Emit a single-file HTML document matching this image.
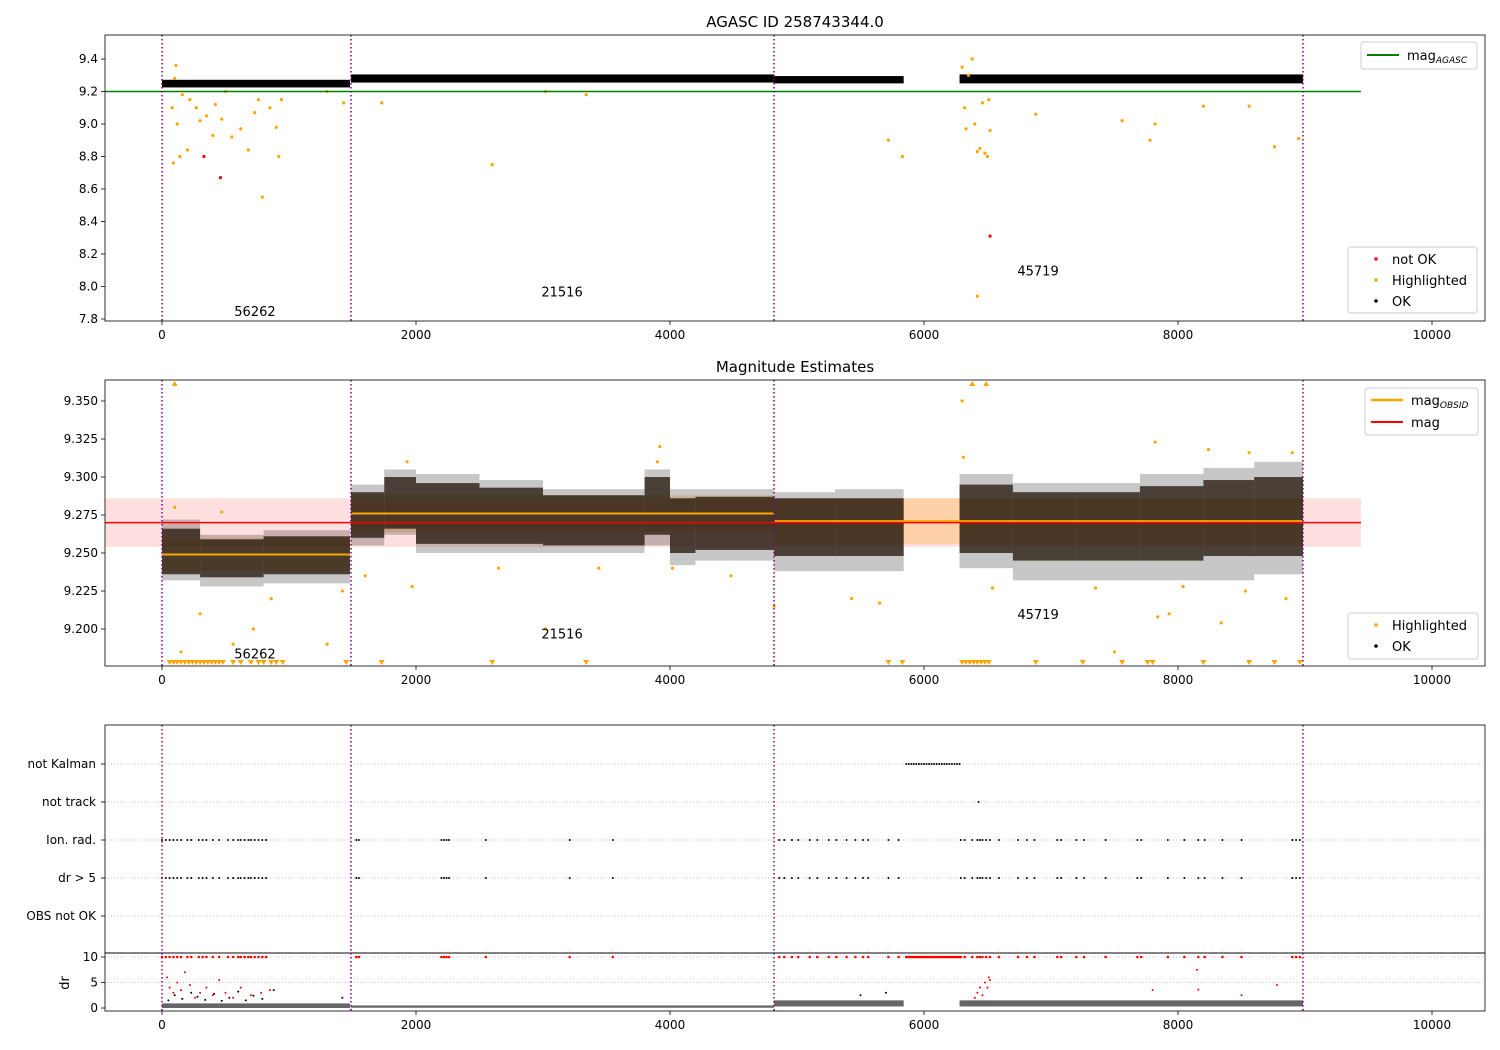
<!DOCTYPE html>
<html><head><meta charset="utf-8">
<style>
html,body{margin:0;padding:0;background:#fff;}
svg{display:block;font-family:"DejaVu Sans","Liberation Sans",sans-serif;}
</style></head>
<body>
<svg id="fig" width="1500" height="1050" viewBox="0 0 1500 1050" xmlns="http://www.w3.org/2000/svg">
<rect x="0" y="0" width="1500" height="1050" fill="#fff"/>
<g id="p1"></g>
<g id="p2"></g>
<g id="p3"></g>
<g id="p4"></g>
</svg>
<script>
// ---------- data ----------
const xTicks = [0, 2000, 4000, 6000, 8000, 10000];
const obsBounds = [0, 1488, 4819, 8984];
const obsIds = ["56262", "21516", "45719"];
const obsLabelX = [732, 3150, 6898];
const p1LabelY = [7.85, 7.97, 8.10];
const p2LabelY = [9.184, 9.197, 9.210];
const p1Ticks = [7.8, 8.0, 8.2, 8.4, 8.6, 8.8, 9.0, 9.2, 9.4];
const p2Ticks = [9.200, 9.225, 9.250, 9.275, 9.300, 9.325, 9.350];
const magAgasc = 9.2;
const magAll = 9.270;
const magAllStd = 0.016;
const segStart = [0, 1488, 4819, 6280];
const segEnd = [1480, 4819, 5840, 8984];
const seg1Lo = [9.225, 9.255, 9.25, 9.25];
const seg1Hi = [9.272, 9.305, 9.295, 9.305];
const obsMeanStart = [0, 1488, 4819];
const obsMeanEnd = [1480, 4819, 8984];
const obsMean = [9.249, 9.276, 9.271];
const obsStd = [0.011, 0.012, 0.015];
const binStart = [0, 300, 800, 1488, 1750, 2000, 2500, 3000, 3500, 3800, 4000, 4200, 4819, 5300, 6280, 6700, 7200, 7700, 8200, 8600];
const binEnd = [300, 800, 1480, 1750, 2000, 2500, 3000, 3500, 3800, 4000, 4200, 4819, 5300, 5840, 6700, 7200, 7700, 8200, 8600, 8984];
const binLo = [9.232, 9.228, 9.23, 9.255, 9.262, 9.25, 9.25, 9.25, 9.25, 9.255, 9.242, 9.245, 9.238, 9.238, 9.24, 9.232, 9.232, 9.232, 9.232, 9.236];
const binHi = [9.272, 9.262, 9.265, 9.295, 9.305, 9.302, 9.298, 9.292, 9.292, 9.305, 9.292, 9.292, 9.29, 9.292, 9.302, 9.296, 9.296, 9.302, 9.306, 9.31];
const binCoreLo = [9.236, 9.234, 9.236, 9.26, 9.266, 9.256, 9.256, 9.255, 9.255, 9.262, 9.25, 9.252, 9.248, 9.248, 9.25, 9.245, 9.245, 9.245, 9.248, 9.248];
const binCoreHi = [9.266, 9.259, 9.261, 9.29, 9.3, 9.296, 9.293, 9.288, 9.288, 9.3, 9.286, 9.287, 9.286, 9.286, 9.295, 9.29, 9.29, 9.294, 9.298, 9.3];
const hl1X = [80,100,110,90,120,140,160,200,220,270,300,350,400,420,470,500,550,620,680,730,760,790,850,900,920,940,1300,1430,1730,2600,3020,3340,5720,5830,6300,6320,6330,6350,6380,6400,6420,6440,6460,6480,6500,6510,6520,6420,6880,7560,7780,7820,8200,8560,8760,8950];
const hl1Y = [9.1,9.28,9.36,8.76,9.0,8.8,9.18,8.84,9.15,9.1,9.02,9.05,8.93,9.12,9.03,9.2,8.92,8.97,8.84,9.07,9.15,8.55,9.1,8.98,8.8,9.15,9.2,9.13,9.13,8.75,9.2,9.18,8.9,8.8,9.35,9.1,8.97,9.3,9.4,9.0,8.83,8.85,9.13,8.82,8.8,9.15,8.96,7.94,9.06,9.02,8.9,9.0,9.11,9.11,8.86,8.91];
const bad1X = [330, 460, 6520];
const bad1Y = [8.80, 8.67, 8.31];
const hl2X = [100,470,300,560,150,720,860,1300,1420,1600,1930,1970,2650,3020,3440,3900,3920,4020,4480,4820,5430,5650,6300,6310,6540,7350,7500,7820,7840,7930,8040,8240,8340,8530,8560,8850,8900];
const hl2Y = [9.28,9.277,9.21,9.19,9.185,9.2,9.22,9.19,9.225,9.235,9.31,9.228,9.24,9.2,9.24,9.31,9.32,9.24,9.235,9.215,9.22,9.217,9.35,9.313,9.227,9.227,9.185,9.323,9.208,9.21,9.228,9.318,9.204,9.225,9.316,9.22,9.316];
const topClipX = [100, 6380, 6490];
const botClipX = [60,90,120,150,180,210,240,270,300,330,360,390,420,450,480,560,620,700,760,800,860,900,950,1450,1730,2600,3340,5720,5830,6300,6330,6360,6390,6420,6450,6480,6510,6880,7250,7560,7760,7800,8200,8560,8760,8960];
const ionX = [0,30,60,90,120,150,200,230,290,320,350,400,450,520,560,600,620,650,680,700,730,760,790,820,1530,1550,2200,2220,2240,2260,2550,3210,3550,4860,4900,4960,5010,5100,5160,5250,5310,5390,5460,5520,5560,5720,5800,6290,6320,6380,6420,6440,6460,6490,6520,6590,6740,6810,6870,7050,7080,7200,7260,7430,7680,7710,7920,8050,8160,8210,8350,8500,8900,8930,8960];
const kalmanRange = [5860, 6290];
const notTrackX = [6430];
const categories = ["OBS not OK", "dr > 5", "Ion. rad.", "not track", "not Kalman"];
const drTicks = [0, 5, 10];
const drBandLo = [0.0, 0.05, 0.3, 0.3];
const drBandHi = [0.9, 0.5, 1.5, 1.5];
const drRedX = [40,60,90,120,150,180,220,260,300,350,400,450,500,560,620,700,780,850,6400,6420,6440,6460,6480,6500,6510,6520,7800,8150,8160,8500,8780];
const drRedY = [6,4,3,5,3.5,7,4.5,2,3,4,2.5,5.5,3,2,4,2.5,3,3.5,2,3,4,2.5,5,4,6,5.5,3.5,7.5,3.6,2.5,4.5];
const drBlkX = [50,100,160,230,280,340,410,470,530,600,660,720,790,880,1420,5500,5700];
const drBlkY = [1.5,2.5,1.8,3,2.2,1.6,2.8,1.4,2,3.2,1.5,2.4,1.8,3.5,2,2.5,3];

// ---------- scales ----------
const X0 = 162, XS = 0.127;
const xs = v => X0 + v * XS;
const y1 = v => 91.5 - (v - 9.2) * 162.5;
const y2 = v => 629 - (v - 9.2) * 1520;
const yc = i => 916 - i * 38;
const yd = v => 1008 - v * 5.1;
const L = 105, R = 1485;
const NS = "http://www.w3.org/2000/svg";
function mk(parent, tag, attrs, text) {
  const e = document.createElementNS(NS, tag);
  for (const k in attrs) e.setAttribute(k, attrs[k]);
  if (text !== undefined) e.textContent = text;
  parent.appendChild(e);
  return e;
}
function dot(g, x, y, r, fill) {
  const c = mk(g, "circle", {cx: x, cy: y, r: r, fill: fill});
  
  
  return c;
}
function xAxis(g, top, bot, labels) {
  for (const t of xTicks) {
    const x = xs(t);
    const l = mk(g, "line", {x1: x, x2: x, y1: bot, y2: bot + 4, stroke: "#000", "stroke-width": 0.8});
    
    
    if (labels) {
      const tx = mk(g, "text", {x: x, y: bot + 18, "text-anchor": "middle", "font-size": 12}, String(t));
      
      
    }
  }
}
function frame(g, top, bot) {
  const r = mk(g, "rect", {x: L, y: top, width: R - L, height: bot - top, fill: "none", stroke: "#000", "stroke-width": 0.8});
  
  
}
function vlines(g, top, bot) {
  for (const b of obsBounds) {
    const l = mk(g, "line", {x1: xs(b), x2: xs(b), y1: top, y2: bot, stroke: "#800080", "stroke-width": 1.5, "stroke-dasharray": "1.5,2.5"});
    
    
  }
}
function yTicks(g, ticks, fy, fmt) {
  for (const t of ticks) {
    const y = fy(t);
    const l = mk(g, "line", {x1: L - 4, x2: L, y1: y, y2: y, stroke: "#000", "stroke-width": 0.8});
    
    
    const tx = mk(g, "text", {x: L - 7, y: y + 4, "text-anchor": "end", "font-size": 12}, fmt(t));
    
    
  }
}
function legendBox(g, x, y, w, h) {
  const r = mk(g, "rect", {x: x, y: y, width: w, height: h, fill: "#fff", "fill-opacity": 0.85, stroke: "#ccc", rx: 3});
  
  
}
function legendText(g, x, y, s, name) {
  const t = mk(g, "text", {x: x, y: y, "font-size": 13}, s);
  
  
  return t;
}

// ---------- panel 1 ----------
const p1 = document.getElementById("p1");
const t1 = mk(p1, "text", {x: 795, y: 27, "text-anchor": "middle", "font-size": 15}, "AGASC ID 258743344.0");


for (let i = 0; i < segStart.length; i++) {
  const r = mk(p1, "rect", {x: xs(segStart[i]), y: y1(seg1Hi[i]), width: xs(segEnd[i]) - xs(segStart[i]), height: y1(seg1Lo[i]) - y1(seg1Hi[i]), fill: "#000"});
  
  
}
for (let i = 0; i < hl1X.length; i++) dot(p1, xs(hl1X[i]), y1(hl1Y[i]), 1.6, "orange");
for (let i = 0; i < bad1X.length; i++) dot(p1, xs(bad1X[i]), y1(bad1Y[i]), 1.6, "red");
const gl = mk(p1, "line", {x1: L, x2: xs(9440), y1: y1(magAgasc), y2: y1(magAgasc), stroke: "green", "stroke-width": 1.5});


vlines(p1, 35, 321);
for (let i = 0; i < obsIds.length; i++) {
  const t = mk(p1, "text", {x: xs(obsLabelX[i]), y: y1(p1LabelY[i]) + 5, "text-anchor": "middle", "font-size": 13}, obsIds[i]);
  
  
}
frame(p1, 35, 321);
xAxis(p1, 35, 321, true);
yTicks(p1, p1Ticks, y1, v => v.toFixed(1));
legendBox(p1, 1361, 42, 116, 27);
mk(p1, "line", {x1: 1367, x2: 1399, y1: 55, y2: 55, stroke: "green", "stroke-width": 2});
const lt = legendText(p1, 1407, 60, "mag", "legend-entry-mag-agasc");
mk(lt, "tspan", {dy: 3, "font-size": 9, "font-style": "italic"}, "AGASC");
legendBox(p1, 1348, 247, 129, 66);
dot(p1, 1376, 259, 1.8, "red"); legendText(p1, 1392, 264, "not OK", "legend-entry-not-ok");
dot(p1, 1376, 280, 1.8, "orange"); legendText(p1, 1392, 285, "Highlighted", "legend-entry-highlighted");
dot(p1, 1376, 301, 1.8, "#000"); legendText(p1, 1392, 306, "OK", "legend-entry-ok");

// ---------- panel 2 ----------
const p2 = document.getElementById("p2");
const t2 = mk(p2, "text", {x: 795, y: 372, "text-anchor": "middle", "font-size": 15}, "Magnitude Estimates");


const cp = mk(p2, "clipPath", {id: "c2"});
mk(cp, "rect", {x: L, y: 380, width: R - L, height: 286});
const g2 = mk(p2, "g", {"clip-path": "url(#c2)"});
const band = mk(g2, "rect", {x: L, y: y2(magAll + magAllStd), width: xs(9440) - L, height: y2(magAll - magAllStd) - y2(magAll + magAllStd), fill: "red", "fill-opacity": 0.12});


for (let i = 0; i < obsMean.length; i++) {
  const r = mk(g2, "rect", {x: xs(obsMeanStart[i]), y: y2(obsMean[i] + obsStd[i]), width: xs(obsMeanEnd[i]) - xs(obsMeanStart[i]), height: y2(obsMean[i] - obsStd[i]) - y2(obsMean[i] + obsStd[i]), fill: "orange", "fill-opacity": 0.25});
  
  
}
for (let i = 0; i < binStart.length; i++) {
  const w = xs(binEnd[i]) - xs(binStart[i]);
  const o = mk(g2, "rect", {x: xs(binStart[i]), y: y2(binHi[i]), width: w, height: y2(binLo[i]) - y2(binHi[i]), fill: "#000", "fill-opacity": 0.22});
  
  
  const c = mk(g2, "rect", {x: xs(binStart[i]), y: y2(binCoreHi[i]), width: w, height: y2(binCoreLo[i]) - y2(binCoreHi[i]), fill: "#1a0d00", "fill-opacity": 0.72});
  
  
}
for (let i = 0; i < obsMean.length; i++) {
  const l = mk(g2, "line", {x1: xs(obsMeanStart[i]), x2: xs(obsMeanEnd[i]), y1: y2(obsMean[i]), y2: y2(obsMean[i]), stroke: "orange", "stroke-width": 2});
  
  
}
const rl = mk(g2, "line", {x1: L, x2: xs(9440), y1: y2(magAll), y2: y2(magAll), stroke: "red", "stroke-width": 1.5});


for (let i = 0; i < hl2X.length; i++) dot(g2, xs(hl2X[i]), y2(hl2Y[i]), 1.6, "orange");
for (const v of topClipX) {
  const x = xs(v);
  const p = mk(p2, "polygon", {points: `${x-3},386 ${x+3},386 ${x},381`, fill: "orange"});
  
  
}
for (const v of botClipX) {
  const x = xs(v);
  const p = mk(p2, "polygon", {points: `${x-3},660 ${x+3},660 ${x},665`, fill: "orange"});
  
  
}
vlines(p2, 380, 666);
for (let i = 0; i < obsIds.length; i++) {
  const t = mk(p2, "text", {x: xs(obsLabelX[i]), y: y2(p2LabelY[i]) + 5, "text-anchor": "middle", "font-size": 13}, obsIds[i]);
  
  
}
frame(p2, 380, 666);
xAxis(p2, 380, 666, true);
yTicks(p2, p2Ticks, y2, v => v.toFixed(3));
legendBox(p2, 1365, 388, 113, 47);
mk(p2, "line", {x1: 1371, x2: 1403, y1: 400, y2: 400, stroke: "orange", "stroke-width": 2.5});
const lt2 = legendText(p2, 1411, 405, "mag", "legend-entry-mag-obsid");
mk(lt2, "tspan", {dy: 3, "font-size": 9, "font-style": "italic"}, "OBSID");
mk(p2, "line", {x1: 1371, x2: 1403, y1: 422, y2: 422, stroke: "red", "stroke-width": 2});
legendText(p2, 1411, 427, "mag", "legend-entry-mag");
legendBox(p2, 1348, 613, 130, 46);
dot(p2, 1376, 625, 1.8, "orange"); legendText(p2, 1392, 630, "Highlighted", "legend-entry-highlighted");
dot(p2, 1376, 646, 1.8, "#000"); legendText(p2, 1392, 651, "OK", "legend-entry-ok");

// ---------- panel 3 (flags) ----------
const p3 = document.getElementById("p3");
for (let i = 0; i < categories.length; i++) {
  const y = yc(i);
  const g = mk(p3, "line", {x1: L, x2: R, y1: y, y2: y, stroke: "#b0b0b0", "stroke-width": 0.8, "stroke-dasharray": "1,2"});
  
  
  mk(p3, "line", {x1: L - 4, x2: L, y1: y, y2: y, stroke: "#000", "stroke-width": 0.8});
  const t = mk(p3, "text", {x: L - 9, y: y + 4, "text-anchor": "end", "font-size": 12}, categories[i]);
  
  
}
for (const v of ionX) {
  dot(p3, xs(v), yc(2), 1, "#000");
  dot(p3, xs(v), yc(1), 1, "#000");
}
for (let v = kalmanRange[0]; v <= kalmanRange[1]; v += 20) dot(p3, xs(v), yc(4), 1, "#000");
for (const v of notTrackX) dot(p3, xs(v), yc(3), 1, "#000");
vlines(p3, 725, 953);
frame(p3, 725, 953);

// ---------- panel 4 (dr) ----------
const p4 = document.getElementById("p4");
for (const t of [5, 10]) {
  const g = mk(p4, "line", {x1: L, x2: R, y1: yd(t), y2: yd(t), stroke: "#b0b0b0", "stroke-width": 0.8, "stroke-dasharray": "1,2"});
  
  
}
for (let i = 0; i < segStart.length; i++) {
  const r = mk(p4, "rect", {x: xs(segStart[i]), y: yd(drBandHi[i]), width: xs(segEnd[i]) - xs(segStart[i]), height: yd(drBandLo[i]) - yd(drBandHi[i]), fill: "#000", "fill-opacity": 0.6});
  
  
}
for (let i = 0; i < drBlkX.length; i++) dot(p4, xs(drBlkX[i]), yd(drBlkY[i]), 1, "#000");
for (const v of ionX) dot(p4, xs(v), yd(10), 1.3, "red");
for (let v = kalmanRange[0]; v <= kalmanRange[1]; v += 12) dot(p4, xs(v), yd(10), 1.3, "red");
for (let i = 0; i < drRedX.length; i++) dot(p4, xs(drRedX[i]), yd(drRedY[i]), 1, "red");
vlines(p4, 953, 1011);
frame(p4, 953, 1011);
xAxis(p4, 953, 1011, true);
yTicks(p4, drTicks, yd, v => String(v));
const dl = mk(p4, "text", {x: 0, y: 0, "text-anchor": "middle", "font-size": 13, transform: "translate(69,983) rotate(-90)"}, "dr");


</script>
</body></html>
